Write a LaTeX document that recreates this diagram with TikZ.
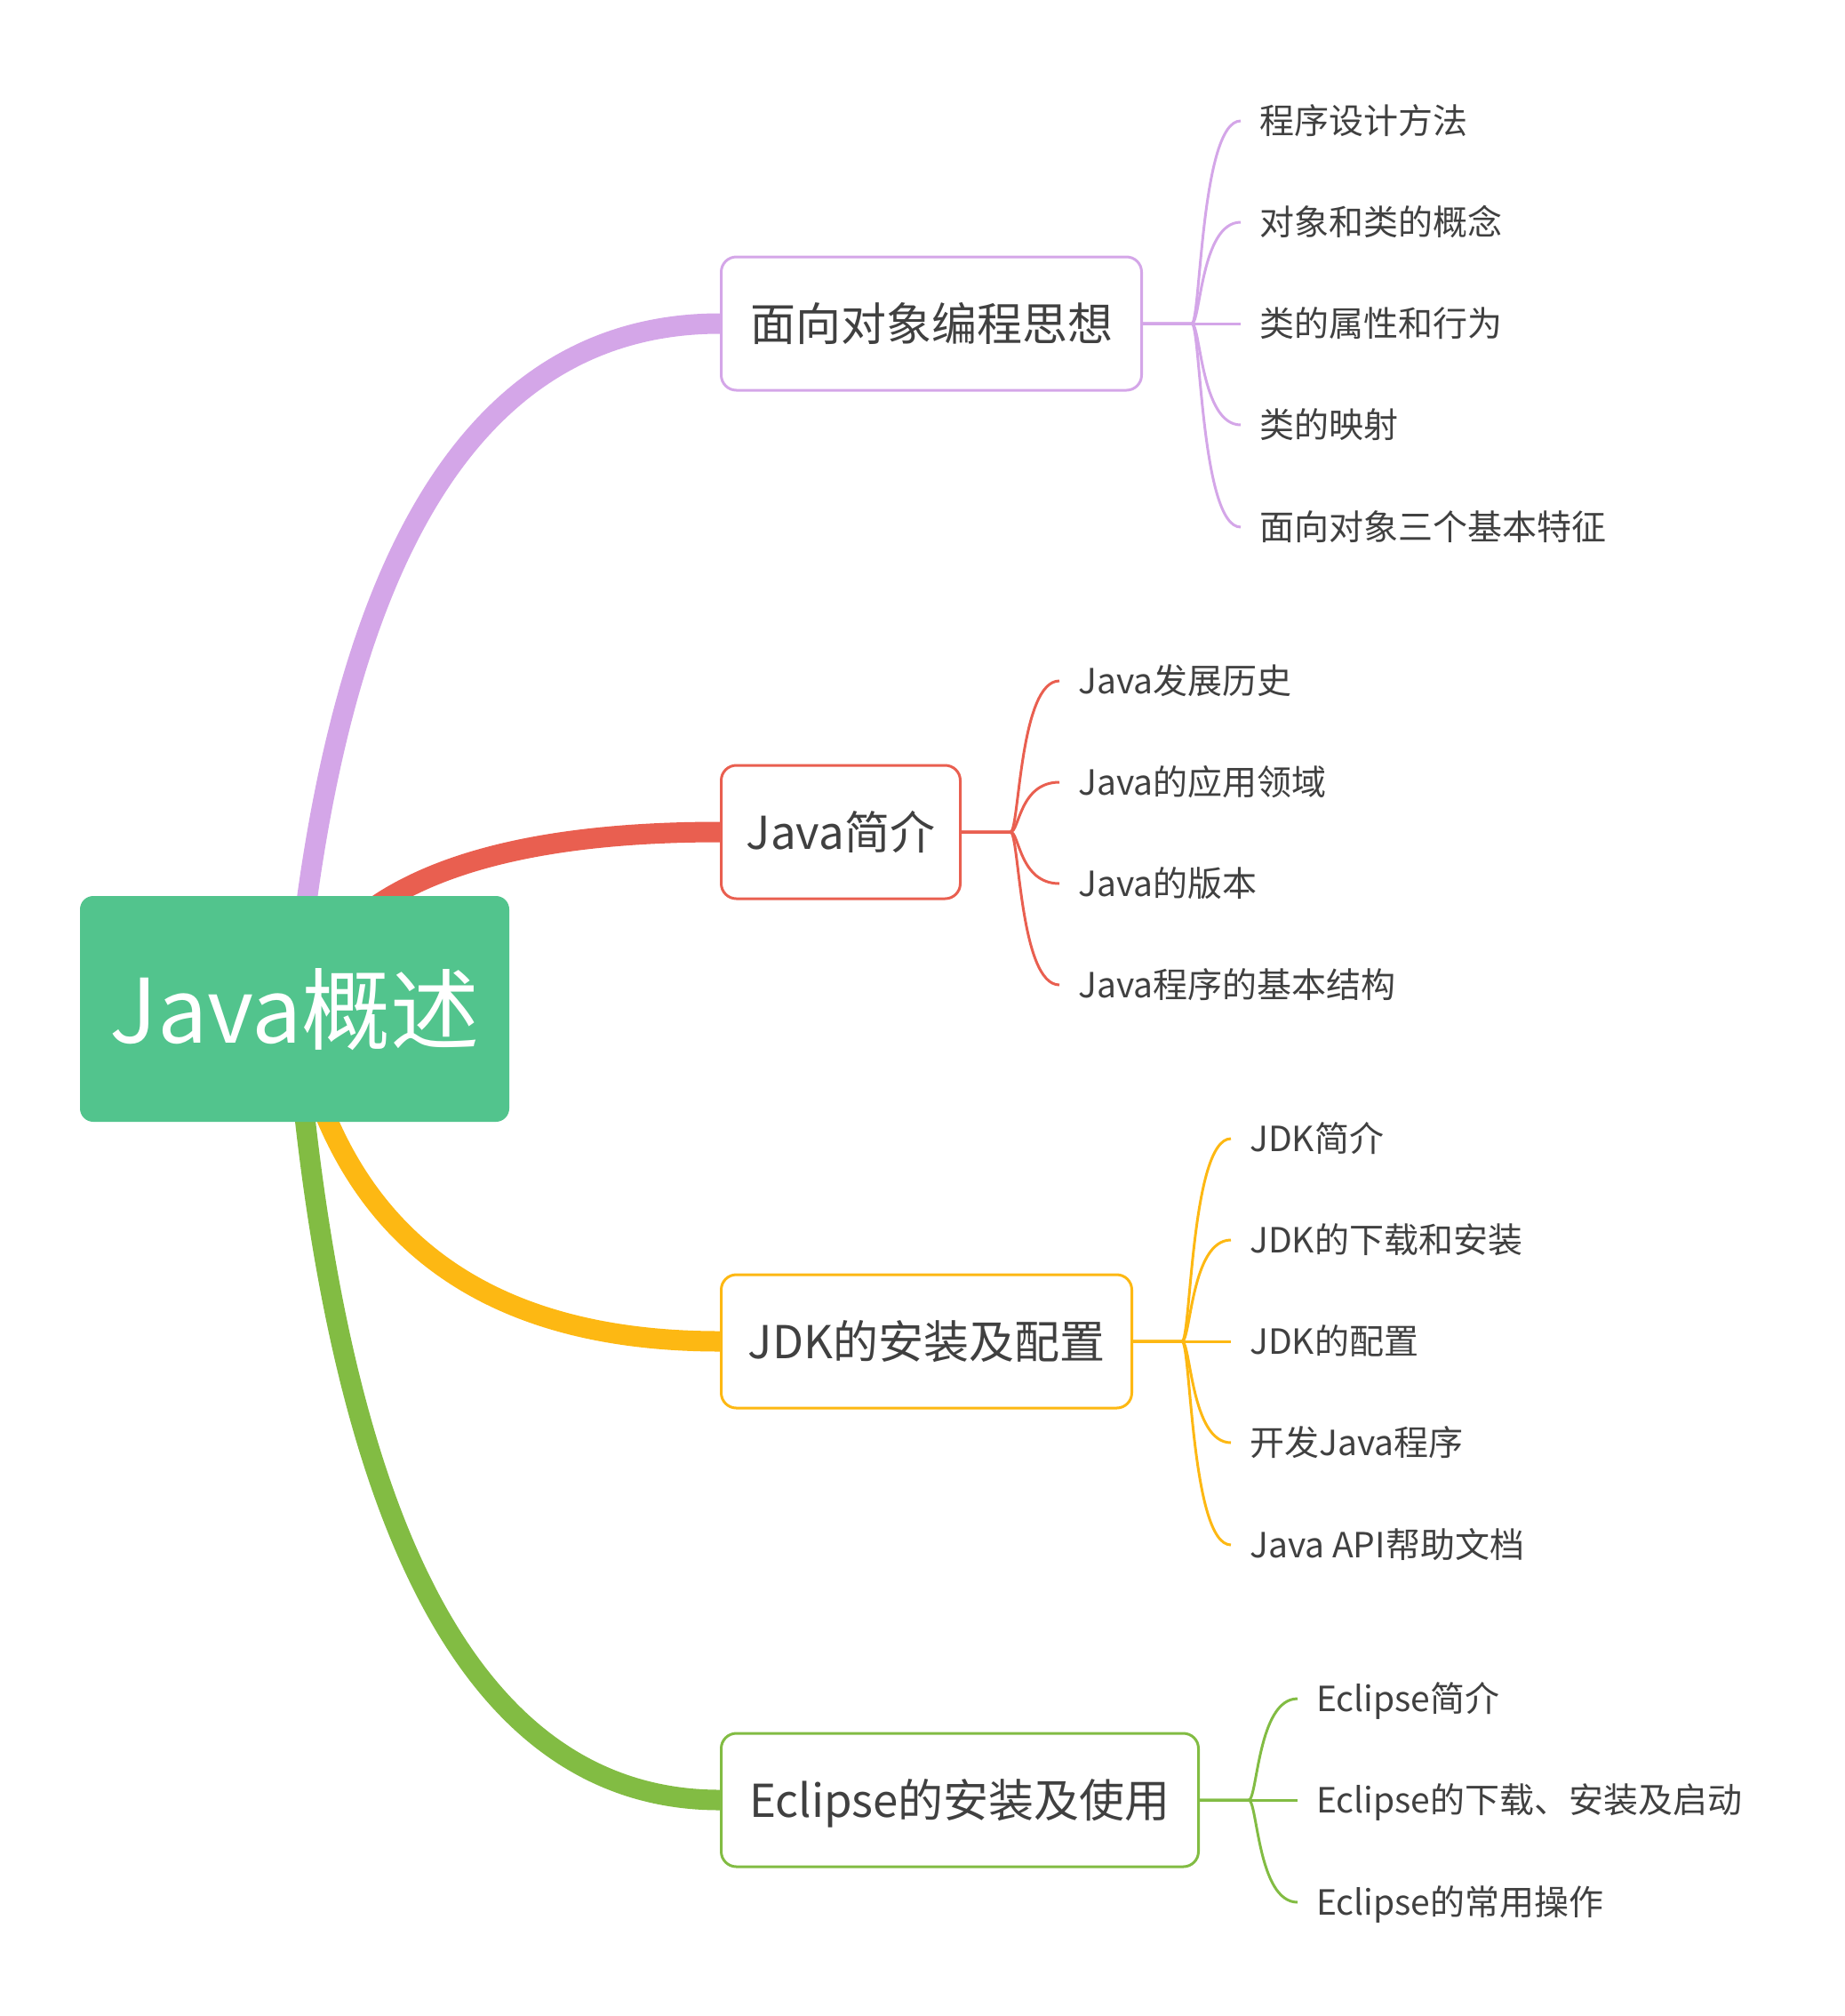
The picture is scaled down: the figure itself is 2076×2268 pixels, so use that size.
\documentclass[tikz,border=0pt]{standalone}
\usepackage{fontspec}
\setmainfont{Noto Sans CJK SC}
\usetikzlibrary{calc}
\definecolor{cpur}{HTML}{D4A6E8}
\definecolor{cred}{HTML}{E95F50}
\definecolor{cyel}{HTML}{FDB813}
\definecolor{cgrn}{HTML}{82BC43}
\definecolor{croot}{HTML}{52C48D}
\definecolor{ctxt}{HTML}{404040}
\pgfdeclarelayer{bg}
\pgfsetlayers{bg,main}
\tikzset{
  rootbox/.style={fill=croot, rounded corners=15pt, minimum width=483pt, minimum height=254pt,
    text=white, font=\fontsize{100}{110}\selectfont, text height=76pt, text depth=0pt, inner sep=0pt},
  topicbox/.style={draw=#1, line width=3pt, fill=white, rounded corners=17pt, minimum height=150pt,
    text=ctxt, font=\fontsize{51}{60}\selectfont, text height=38.8pt, text depth=0pt, inner sep=0pt, anchor=west},
  leaf/.style={text=ctxt, font=\fontsize{39}{46}\selectfont, text height=29.6pt, text depth=0pt,
    inner xsep=21pt, inner ysep=0pt, anchor=west},
  mainline/.style={draw=#1, line width=23pt},
  subline/.style={draw=#1, line width=3pt},
}
\begin{document}
\begin{tikzpicture}[x=1pt, y=-1pt]
\useasboundingbox (0,0) rectangle (2076,2268);

% root
\node[rootbox] (root) at (331.5,1135) {Java概述};

% topics
\node[topicbox=cpur, minimum width=473pt] (b1) at (810,364) {面向对象编程思想};
\node[topicbox=cred, minimum width=269pt] (b2) at (810,936) {Java简介};
\node[topicbox=cyel, minimum width=462pt] (b3) at (810,1509) {JDK的安装及配置};
\node[topicbox=cgrn, minimum width=537pt] (b4) at (810,2025) {Eclipse的安装及使用};

% junctions
\coordinate (j1) at ($(b1.east)+(55,0)$);
\coordinate (j2) at ($(b2.east)+(55,0)$);
\coordinate (j3) at ($(b3.east)+(55,0)$);
\coordinate (j4) at ($(b4.east)+(55,0)$);

% leaves of b1
\node[leaf] (a1) at (1396,136) {程序设计方法};
\node[leaf] (a2) at (1396,250) {对象和类的概念};
\node[leaf] (a3) at (1396,364) {类的属性和行为};
\node[leaf] (a4) at (1396,478) {类的映射};
\node[leaf] (a5) at (1396,593) {面向对象三个基本特征};

% leaves of b2
\node[leaf] (c1) at (1192,766) {Java发展历史};
\node[leaf] (c2) at (1192,880) {Java的应用领域};
\node[leaf] (c3) at (1192,994) {Java的版本};
\node[leaf] (c4) at (1192,1108) {Java程序的基本结构};

% leaves of b3
\node[leaf] (d1) at (1385,1281) {JDK简介};
\node[leaf] (d2) at (1385,1395) {JDK的下载和安装};
\node[leaf] (d3) at (1385,1509) {JDK的配置};
\node[leaf] (d4) at (1385,1623) {开发Java程序};
\node[leaf] (d5) at (1385,1738) {Java API帮助文档};

% leaves of b4
\node[leaf] (e1) at (1460,1911) {Eclipse简介};
\node[leaf] (e2) at (1460,2025) {Eclipse的下载、安装及启动};
\node[leaf] (e3) at (1460,2140) {Eclipse的常用操作};

\begin{pgfonlayer}{bg}
  % main branches (quadratic curves written as cubics)
  \foreach \b/\c in {b1/cpur, b2/cred, b3/cyel, b4/cgrn}{
    \draw[mainline=\c] (root.center)
      .. controls ($(root.center)!2/3!(root.center|-\b.west)+(46,0)$)
      and ($(\b.west)!2/3!(root.center|-\b.west)+(46,0)$) .. (\b.west);
  }
  % sub branches
  \foreach \l in {a1,a2,a3,a4,a5}{
    \draw[subline=cpur] (b1.east) -- (j1) .. controls ($(j1)+(10,0)$) and ($(j1|-\l.west)+(10,0)$) .. (\l.west);
  }
  \foreach \l in {c1,c2,c3,c4}{
    \draw[subline=cred] (b2.east) -- (j2) .. controls ($(j2)+(10,0)$) and ($(j2|-\l.west)+(10,0)$) .. (\l.west);
  }
  \foreach \l in {d1,d2,d3,d4,d5}{
    \draw[subline=cyel] (b3.east) -- (j3) .. controls ($(j3)+(10,0)$) and ($(j3|-\l.west)+(10,0)$) .. (\l.west);
  }
  \foreach \l in {e1,e2,e3}{
    \draw[subline=cgrn] (b4.east) -- (j4) .. controls ($(j4)+(10,0)$) and ($(j4|-\l.west)+(10,0)$) .. (\l.west);
  }
\end{pgfonlayer}
\end{tikzpicture}
\end{document}
